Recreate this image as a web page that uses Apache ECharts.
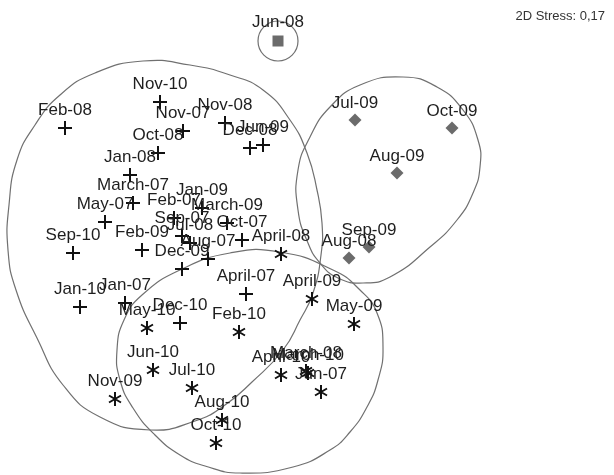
<!DOCTYPE html>
<html>
<head>
<meta charset="UTF-8">
<title>MDS</title>
<script src="https://cdn.jsdelivr.net/npm/echarts@6/dist/echarts.min.js"></script>
<style>
  html, body { margin: 0; padding: 0; background: #fff; }
  #chart { width: 614px; height: 475px; }
</style>
</head>
<body>
<div id="chart"></div>
<script>
// MDS ordination coordinates, [x, y, label]
var groupPlus = [
    [65, 128, 'Feb-08'], [160, 102, 'Nov-10'], [183, 131, 'Nov-07'], [225, 123, 'Nov-08'],
    [250, 148, 'Dec-08'], [263, 145, 'Jun-09'], [158, 153, 'Oct-08'], [130, 175, 'Jan-08'],
    [133, 203, 'March-07'], [105, 222, 'May-07'], [174, 218, 'Feb-07'], [202, 208, 'Jan-09'],
    [227, 223, 'March-09'], [182, 236, 'Sep-07'], [190, 243, 'Jul-08'], [242, 240, 'Oct-07'],
    [208, 259, 'Aug-07'], [182, 269, 'Dec-09'], [142, 250, 'Feb-09'], [73, 253, 'Sep-10'],
    [80, 307, 'Jan-10'], [125, 303, 'Jan-07'], [180, 323, 'Dec-10'], [246, 294, 'April-07']
]
var groupStar = [
    [281, 254, 'April-08'], [312, 299, 'April-09'], [354, 324, 'May-09'], [147, 328, 'May-10'],
    [239, 332, 'Feb-10'], [153, 370, 'Jun-10'], [192, 388, 'Jul-10'], [115, 399, 'Nov-09'],
    [222, 420, 'Aug-10'], [216, 443, 'Oct-10'], [281, 375, 'April-10'], [306, 371, 'March-08'],
    [308, 373, 'March-10'], [321, 392, 'Jun-07']
]
var groupDiamond = [
    [355, 120, 'Jul-09'], [452, 128, 'Oct-09'], [397, 173, 'Aug-09'],
    [369, 247, 'Sep-09'], [349, 258, 'Aug-08']
]
var groupSquare = [
    [278, 41, 'Jun-08']
]

// cluster outlines
var outlinePlus = [[143, 61], [190, 65], [230, 75], [263, 90], [290, 120], [307, 153], [317, 190],
    [322, 223], [321, 255], [313, 293], [300, 320], [283, 350], [252, 382], [225, 405], [195, 421],
    [150, 430], [100, 417], [63, 385], [37, 338], [16, 290], [8, 250], [9, 205], [17, 160],
    [35, 125], [60, 95], [95, 73]]
var outlineStar = [[230, 253], [280, 252], [333, 270], [360, 290], [377, 313], [383, 347],
    [378, 380], [367, 407], [350, 432], [330, 450], [293, 467], [240, 473], [205, 466], [180, 455],
    [155, 435], [133, 408], [120, 380], [117, 350], [124, 320], [142, 295], [180, 270]]
var outlineDiamond = [[403, 77], [437, 87], [463, 110], [478, 140], [480, 167], [473, 193],
    [457, 220], [430, 247], [390, 277], [363, 283], [338, 278], [320, 263], [308, 243], [298, 210],
    [298, 170], [310, 137], [330, 107], [360, 85]]
var outlines = [outlinePlus, outlineStar, outlineDiamond]
var circleSquare = [278, 41, 20]

var plusPath = 'path://M-1,-7H1V-1H7V1H1V7H-1V1H-7V-1H-1Z'
var starPath = 'path://M-1,-7L1,-7L1,7L-1,7Z' +
    'M5.56,4.37L-6.56,-2.63L-5.56,-4.37L6.56,2.63Z' +
    'M-6.56,2.63L5.56,-4.37L6.56,-2.63L-5.56,4.37Z'

var chart = echarts.init(document.getElementById('chart'))

var labelStyle = {
    show: true,
    position: 'top',
    distance: 2,
    formatter: function (p) { return p.data[2] },
    fontFamily: 'Liberation Sans',
    fontSize: 17,
    color: '#1e1e1e'
}

option = {
    animation: false,
    title: {
        text: '2D Stress: 0,17',
        right: 4,
        top: 5,
        textStyle: {fontFamily: 'Liberation Sans', fontSize: 13, fontWeight: 'normal', color: '#333'}
    },
    grid: {left: 0, right: 0, top: 0, bottom: 0},
    xAxis: {type: 'value', min: 0, max: 614, show: false},
    yAxis: {type: 'value', min: 0, max: 475, inverse: true, show: false},
    series: [
        {
            type: 'custom',
            silent: true,
            clip: false,
            z: 1,
            data: outlines.map(function (o) { return o[0] }),
            renderItem: function (params, api) {
                var pts = outlines[params.dataIndex].map(function (p) { return api.coord(p) })
                return {
                    type: 'polygon',
                    shape: {points: pts, smooth: 0.5},
                    style: {fill: null, stroke: '#707070', lineWidth: 1.2}
                }
            }
        },
        {
            type: 'custom',
            silent: true,
            clip: false,
            z: 1,
            data: [circleSquare],
            renderItem: function (params, api) {
                var c = api.coord([api.value(0), api.value(1)])
                var r = api.size([api.value(2), 0])[0]
                return {
                    type: 'circle',
                    shape: {cx: c[0], cy: c[1], r: r},
                    style: {fill: null, stroke: '#707070', lineWidth: 1.2}
                }
            }
        },
        {
            type: 'scatter', z: 3, data: groupPlus,
            symbol: plusPath, symbolSize: 14,
            itemStyle: {color: '#111', opacity: 1},
            label: labelStyle
        },
        {
            type: 'scatter', z: 3, data: groupStar,
            symbol: starPath, symbolSize: [13, 14],
            itemStyle: {color: '#111', opacity: 1},
            label: labelStyle
        },
        {
            type: 'scatter', z: 3, data: groupDiamond,
            symbol: 'diamond', symbolSize: 13,
            itemStyle: {color: '#6b6b6b', opacity: 1},
            label: labelStyle
        },
        {
            type: 'scatter', z: 3, data: groupSquare,
            symbol: 'rect', symbolSize: 11,
            itemStyle: {color: '#6b6b6b', opacity: 1},
            label: Object.assign({}, labelStyle, {distance: 5})
        }
    ]
}

chart.setOption(option)
</script>
</body>
</html>
